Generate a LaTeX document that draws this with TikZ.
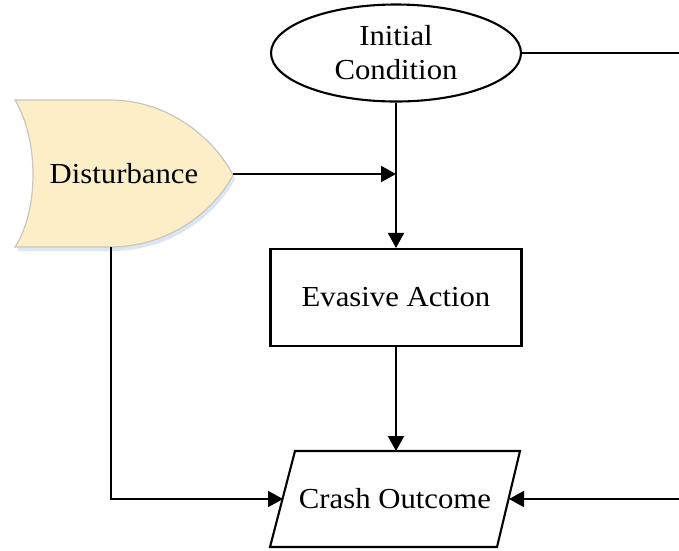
\documentclass[tikz,border=0pt]{standalone}
\usepackage{fontspec}
\setmainfont{Liberation Serif}[FakeStretch=1.06]
\usetikzlibrary{arrows.meta,shapes.geometric}
\definecolor{distfill}{HTML}{FCEFC8}
\definecolor{distline}{HTML}{C9C6BE}
\definecolor{shadowc}{HTML}{DCE6F2}
\tikzset{
  conn/.style={line width=2.1pt, draw=black},
  arr/.style={conn, -{Triangle[length=15pt,width=16pt]}},
  lbl/.style={font=\fontsize{29}{34}\selectfont, align=center, inner sep=0pt},
  shapeline/.style={line width=2.1pt, draw=black},
}
\begin{document}
\begin{tikzpicture}[x=1pt,y=-1pt]
\useasboundingbox (0,0) rectangle (679,550);
% Disturbance shape (shadow + body)
\fill[shadowc] (17,104) -- (112,104) .. controls (172,104) and (217,144) .. (235,179)
  .. controls (217,214) and (172,251) .. (112,251) -- (17,251)
  .. controls (41,214) and (41,144) .. (17,104) -- cycle;
\draw[fill=distfill, draw=distline, line width=1.2pt]
  (15,100) -- (110,100) .. controls (170,100) and (215,140) .. (233,175)
  .. controls (215,210) and (170,247) .. (110,247) -- (15,247)
  .. controls (39,210) and (39,140) .. (15,100) -- cycle;
\node[lbl] (dist) at (124,174) {Disturbance};
\coordinate (dtip) at (233,174);
\coordinate (dbot) at (111,247);
% Initial condition
\node[lbl, shapeline, ellipse, minimum width=250pt, minimum height=97pt] (ic) at (396,53) {Initial\\Condition};
% Evasive action
\node[lbl, shapeline, minimum width=251pt, minimum height=97pt] (ea) at (396,297.5) {Evasive Action};
% Crash outcome (parallelogram)
\node[lbl] (co) at (395,499) {Crash Outcome};
\coordinate (coTL) at (295,451);
\coordinate (coTR) at (520,451);
\coordinate (coBR) at (497,547);
\coordinate (coBL) at (270,547);
\draw[shapeline, line join=miter] (coTL) -- (coTR) -- (coBR) -- (coBL) -- cycle;
\coordinate (coN) at (396,451);
\coordinate (coW) at (283,499);
\coordinate (coE) at (509,499);
% junction coordinates
\coordinate (j) at (396,174);
\coordinate (rtop) at (686,53);
\coordinate (rbot) at (686,499);
\coordinate (lbot) at (111,499);
% connectors
\draw[arr] (ic.south) -- (ea.north);
\draw[arr] (dtip) -- (j);
\draw[arr] (ea.south) -- (coN);
\draw[arr] (dbot) -- (lbot) -- (coW);
\draw[conn] (ic.east) -- (rtop) -- (rbot);
\draw[arr] (rbot) -- (coE);
\end{tikzpicture}
\end{document}
